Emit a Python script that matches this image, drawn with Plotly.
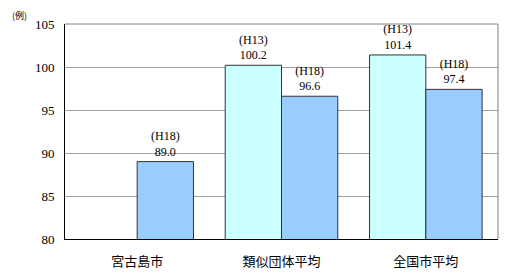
import plotly.graph_objects as go

categories = ["宮古島市", "類似団体平均", "全国市平均"]
h13_values = [None, 100.2, 101.4]
h18_values = [89.0, 96.6, 97.4]
h13_label = "(H13)"
h18_label = "(H18)"
y_ticks = [80, 85, 90, 95, 100, 105]

W, H = 505, 273
ML, MR, MT, MB = 65, 7, 24, 34

num_font = "Liberation Serif, Noto Sans CJK JP"
cjk_font = "Noto Sans CJK JP"

def labels(vals, tag):
    return [None if v is None else f"{tag}<br>{v:.1f}" for v in vals]

fig = go.Figure()
fig.add_trace(go.Bar(
    x=categories, y=h13_values, name="H13",
    marker=dict(color="#CCFFFF", line=dict(color="#333333", width=1)),
    text=labels(h13_values, h13_label), textposition="outside",
    textfont=dict(family=num_font, size=12, color="#000000"),
    cliponaxis=False, constraintext="none",
))
fig.add_trace(go.Bar(
    x=categories, y=h18_values, name="H18",
    marker=dict(color="#99CCFF", line=dict(color="#333333", width=1)),
    text=labels(h18_values, h18_label), textposition="outside",
    textfont=dict(family=num_font, size=12, color="#000000"),
    cliponaxis=False, constraintext="none",
))

fig.update_layout(
    width=W, height=H,
    margin=dict(l=ML, r=MR, t=MT, b=MB, autoexpand=False),
    paper_bgcolor="white", plot_bgcolor="white",
    barmode="group", bargap=0.22, bargroupgap=0,
    showlegend=False,
    font=dict(family=num_font, color="#000000"),
)
fig.update_xaxes(
    showgrid=False, showline=True, linecolor="#000000", linewidth=1,
    ticks="outside", ticklen=10, tickcolor="rgba(0,0,0,0)",
    tickfont=dict(family=cjk_font, size=13, color="#000000"),
    automargin=False,
)
fig.update_yaxes(
    range=[80, 105], tickvals=y_ticks,
    showgrid=True, gridcolor="#A0A0A0", gridwidth=1,
    showline=True, linecolor="#000000", linewidth=1,
    ticks="outside", ticklen=7, tickcolor="rgba(0,0,0,0)",
    tickfont=dict(family=num_font, size=13, color="#000000"),
    zeroline=False, automargin=False,
)
# gray frame on top and right
fig.add_shape(type="line", xref="paper", yref="paper", x0=0, x1=1, y0=1, y1=1,
              line=dict(color="#808080", width=1))
fig.add_shape(type="line", xref="paper", yref="paper", x0=1, x1=1, y0=0, y1=1,
              line=dict(color="#808080", width=1))
fig.add_annotation(text="(例)", xref="paper", yref="paper",
                   x=-0.105, y=1.0, xanchor="center", yanchor="bottom",
                   showarrow=False, font=dict(family=cjk_font, size=9, color="#000000"))

fig.write_html("out.html")
